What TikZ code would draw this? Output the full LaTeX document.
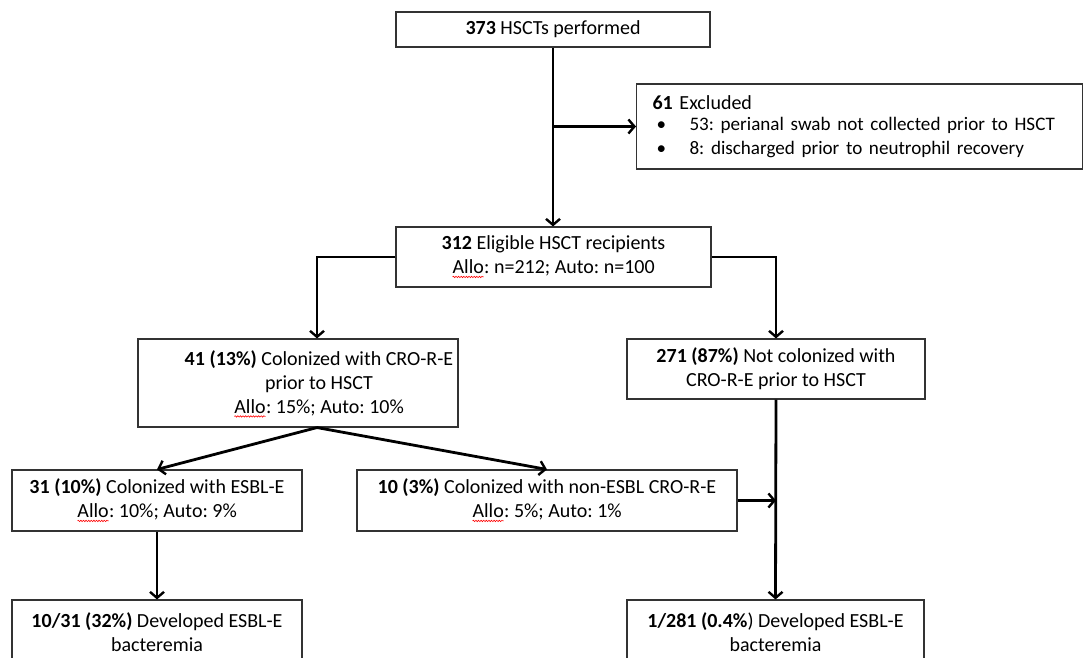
\documentclass[tikz,border=0pt]{standalone}
\usepackage{fontspec}
\setmainfont{Carlito}
\frenchspacing
\usetikzlibrary{arrows.meta,decorations.pathmorphing}
\newcommand\fs{\fontsize{20}{24}\selectfont}
\newcommand\fss{\fontsize{19.1}{22}\selectfont}
\newcommand\sqig[1]{\tikz[baseline=(w.base)]{\node[inner sep=0pt,outer sep=0pt,draw=none,minimum width=0pt,minimum height=0pt,anchor=base,align=center](w){#1};\draw[red,line width=0.6pt,decorate,decoration={snake,amplitude=0.7pt,segment length=2.6pt}]([yshift=-3pt]w.base west)--([yshift=-3pt]w.base east);}}
\begin{document}
\begin{tikzpicture}[x=1pt,y=-1pt,
 box/.style={draw=black!80,line width=1.1pt,rectangle,inner sep=0pt,align=center,font=\fs},
 lbl/.style={inner sep=0pt,align=center,font=\fs},
 arr/.style={line width=2.8pt,-{Straight Barb[length=6pt,width=14pt,line width=2.4pt]}}]
\useasboundingbox (0,0) rectangle (1084,658);
\clip (0,0) rectangle (1084,658);

\node[box,minimum width=314pt,minimum height=35pt] (n373) at (553,29.5) {\textbf{373} HSCTs performed};
\node[box,anchor=west,minimum width=446pt,minimum height=85pt,text width=414pt,align=left,inner xsep=16pt] (excl) at (636,126.5)
 {\textbf{61} Excluded\\[-1pt]\fss\hspace*{4pt}\makebox[33pt][l]{•}53: perianal swab not collected prior to HSCT\\\hspace*{4pt}\makebox[33pt][l]{•}8: discharged prior to neutrophil recovery};
\node[box,minimum width=315pt,minimum height=60pt] (elig) at (553.5,257) {\textbf{312} Eligible HSCT recipients\\\sqig{Allo}: n=212; Auto: n=100};
\node[box,minimum width=320pt,minimum height=88pt] (b41) at (298,383) {};
\node[lbl] (t41) at (319,384) {\textbf{41 (13\%)} Colonized with CRO-R-E\\prior to HSCT\\\sqig{Allo}: 15\%; Auto: 10\%};
\node[box,minimum width=298pt,minimum height=60pt] (b271) at (776,369) {\textbf{271 (87\%)} Not colonized with\\CRO-R-E prior to HSCT};
\node[box,minimum width=290pt,minimum height=61pt] (b31) at (157,500.5) {\textbf{31 (10\%)} Colonized with ESBL-E\\\sqig{Allo}: 10\%; Auto: 9\%};
\node[box,minimum width=380pt,minimum height=61pt] (b10) at (547,500.5) {\textbf{10 (3\%)} Colonized with non-ESBL CRO-R-E\\\sqig{Allo}: 5\%; Auto: 1\%};
\node[box,minimum width=290pt,minimum height=90pt] (bl) at (157,645) {};
\node[lbl] (tbl) at (157,632) {\textbf{10/31 (32\%)} Developed ESBL-E\\bacteremia};
\node[box,minimum width=297pt,minimum height=90pt] (br) at (775.5,645) {};
\node[lbl] (tbr) at (775.5,632) {\textbf{1/281 (0.4\%}) Developed ESBL-E\\bacteremia};

\draw[arr] (n373.south) -- (n373.south |- elig.north);
\draw[arr] (n373.south |- excl.west) -- (excl.west);
\draw[arr] (elig.west) -| (b41.north -| 317,0);
\draw[arr] (elig.east) -| (b271.north);
\draw[arr] (b271.south) -- (br.north);
\draw[arr] (b10.east) -- (b10.east -| b271.south);
\draw[arr] (b41.south -| 317,0) -- (b31.north);
\draw[arr] (b41.south -| 317,0) -- (b10.north);
\draw[arr] (b31.south) -- (bl.north);
\end{tikzpicture}
\end{document}
